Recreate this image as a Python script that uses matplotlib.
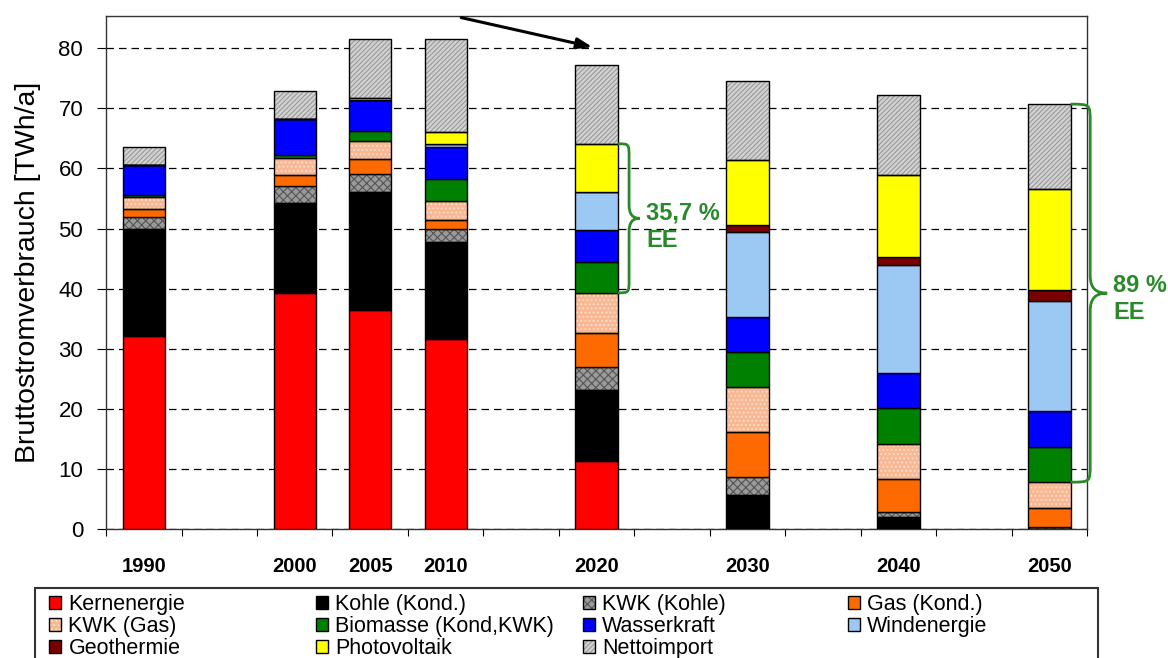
import matplotlib
matplotlib.use('Agg')
import matplotlib.pyplot as plt
from matplotlib.path import Path
from matplotlib.patches import PathPatch, Rectangle
import numpy as np

plt.rcParams['font.family'] = ['Liberation Sans', 'DejaVu Sans']
plt.rcParams['hatch.linewidth'] = 0.8

# data (TWh/a)
years = ['1990', '2000', '2005', '2010', '2020', '2030', '2040', '2050']
slots = [0, 2, 3, 4, 6, 8, 10, 12]
kernenergie = [32.1, 39.2, 36.4, 31.7, 11.3, 0, 0, 0]
kohle = [17.8, 15.0, 19.6, 16.1, 11.8, 5.7, 2.0, 0]
kwk_kohle = [2.0, 2.8, 3.1, 2.1, 3.9, 2.9, 0.9, 0.3]
gas_kond = [1.3, 1.9, 2.4, 1.6, 5.6, 7.6, 5.4, 3.2]
kwk_gas = [2.1, 2.8, 3.1, 3.1, 6.7, 7.5, 5.8, 4.3]
biomasse = [0.3, 0.5, 1.7, 3.6, 5.1, 5.7, 6.0, 5.9]
wasserkraft = [4.9, 6.0, 5.1, 5.3, 5.4, 5.8, 5.9, 5.9]
windenergie = [0, 0, 0, 0.5, 6.3, 14.3, 17.9, 18.3]
geothermie = [0, 0, 0, 0, 0, 1.1, 1.3, 1.9]
photovoltaik = [0, 0, 0.4, 2.0, 8.0, 10.8, 13.7, 16.7]
nettoimport = [3.1, 4.7, 9.8, 15.6, 13.1, 13.1, 13.4, 14.2]

labels = ['Kernenergie', 'Kohle (Kond.)', 'KWK (Kohle)', 'Gas (Kond.)',
          'KWK (Gas)', 'Biomasse (Kond,KWK)', 'Wasserkraft', 'Windenergie',
          'Geothermie', 'Photovoltaik', 'Nettoimport']
series = [kernenergie, kohle, kwk_kohle, gas_kond, kwk_gas, biomasse,
          wasserkraft, windenergie, geothermie, photovoltaik, nettoimport]
colors = ['#ff0000', '#000000', '#9a9a9a', '#ff6a00', '#f9b894', '#008000',
          '#0000ff', '#9cc8f4', '#7a0000', '#ffff00', '#d2d2d2']
# (hatch, hatch colour) for the patterned layers
hatches = {2: ('xxxx', '#555555'), 4: ('....', '#fde0cc'), 10: ('///////', '#999999')}

ee_labels = ['35,7 %\nEE', '89 %\nEE']

green = '#2a8a2a'
fig = plt.figure(figsize=(11.68, 6.58), dpi=100)
ax = fig.add_axes([0.0908, 0.196, 0.840, 0.780])

x = np.array(slots, dtype=float)
width = 0.56
bottom = np.zeros(len(years))
handles = []
for i, (vals, lab, col) in enumerate(zip(series, labels, colors)):
    vals = np.array(vals)
    if i in hatches:
        h, hc = hatches[i]
        b1 = ax.bar(x, vals, width, bottom=bottom, color=col, edgecolor=hc,
                    hatch=h, linewidth=0, zorder=2)
        b2 = ax.bar(x, vals, width, bottom=bottom, fill=False,
                    edgecolor='black', linewidth=1, zorder=3)
        handles.append((b1, b2))
    else:
        b = ax.bar(x, vals, width, bottom=bottom, color=col,
                   edgecolor='black', linewidth=1, zorder=3)
        handles.append(b)
    bottom = bottom + vals

cum = np.cumsum(np.array(series), axis=0)


def brace(x0, xm, xt, ytop, ybot, r):
    ymid = (ytop + ybot) / 2
    verts = [(x0, ytop), (xm, ytop), (xm, ytop), (xm, ytop - r),
             (xm, ymid + r),
             (xm, ymid + 0.3 * r), (xm + 0.3 * (xt - xm), ymid), (xt, ymid),
             (xm + 0.3 * (xt - xm), ymid), (xm, ymid - 0.3 * r), (xm, ymid - r),
             (xm, ybot + r),
             (xm, ybot), (xm, ybot), (x0, ybot)]
    codes = [Path.MOVETO, Path.CURVE4, Path.CURVE4, Path.CURVE4,
             Path.LINETO,
             Path.CURVE4, Path.CURVE4, Path.CURVE4,
             Path.CURVE4, Path.CURVE4, Path.CURVE4,
             Path.LINETO,
             Path.CURVE4, Path.CURVE4, Path.CURVE4]
    ax.add_patch(PathPatch(Path(verts, codes), fill=False, edgecolor=green,
                           linewidth=2, clip_on=False, zorder=4))
    return ymid


# 2020 brace: renewables from biomass up to photovoltaics
ytop, ybot = cum[9][4], cum[4][4]
ym = brace(x[4] + 0.28, x[4] + 0.43, x[4] + 0.575, ytop, ybot, 2.3)
ax.text(x[4] + 0.655, ym - 1.4, ee_labels[0], color=green, fontsize=17,
        fontweight='bold', ha='left', va='center', linespacing=1.25)
# 2050 brace: renewables plus import
ytop, ybot = cum[10][7], cum[4][7]
ym = brace(x[7] + 0.28, x[7] + 0.54, x[7] + 0.765, ytop, ybot, 3.0)
ax.text(x[7] + 0.845, ym - 1.0, ee_labels[1], color=green, fontsize=17,
        fontweight='bold', ha='left', va='center', linespacing=1.25,
        clip_on=False)

# arrow
ax.annotate('', xy=(5.98, 80.1), xytext=(4.17, 85.2),
            arrowprops=dict(arrowstyle='-|>,head_length=0.9,head_width=0.32',
                            color='black', lw=2.2),
            annotation_clip=False)

ax.set_xlim(-0.5, 12.5)
ax.set_ylim(0, 85.4)
ax.set_yticks(np.arange(0, 81, 10))
ax.tick_params(axis='y', labelsize=16, length=6.5, pad=10)
ax.set_xticks(np.arange(-0.5, 13, 1))
ax.set_xticklabels([])
ax.tick_params(axis='x', which='major', length=5, direction='out')
ax.set_xticks(x, minor=True)
ax.set_xticklabels(years, minor=True, fontsize=14.5, fontweight='bold')
ax.tick_params(axis='x', which='minor', length=0, pad=20)
ax.yaxis.grid(True, linestyle=(0, (6, 4)), color='black', linewidth=0.9)
ax.set_axisbelow(True)
for s in ax.spines.values():
    s.set_linewidth(1.0)
    s.set_color('#333333')

ax.set_ylabel('Bruttostromverbrauch [TWh/a]', fontsize=20.5)
ax.yaxis.set_label_coords(-0.066, 0.5)

# legend box with four columns
fig.add_artist(Rectangle((0.030, -0.05), 0.910, 0.1064 + 0.05,
                         transform=fig.transFigure, fill=False,
                         edgecolor='#333333', linewidth=1.5))
cols = [[0, 4, 8], [1, 5, 9], [2, 6, 10], [3, 7]]
col_x = [49, 316, 583, 848]
for idx, cx in zip(cols, col_x):
    fig.legend([handles[k] for k in idx], [labels[k] for k in idx],
               loc='upper left', bbox_to_anchor=(cx / 1168, 1 - 594 / 658),
               frameon=False, fontsize=15.5, handlelength=0.55, handleheight=0.55,
               handletextpad=0.35, labelspacing=0.05, borderpad=0,
               borderaxespad=0)

fig.savefig('out.png', dpi=100)
